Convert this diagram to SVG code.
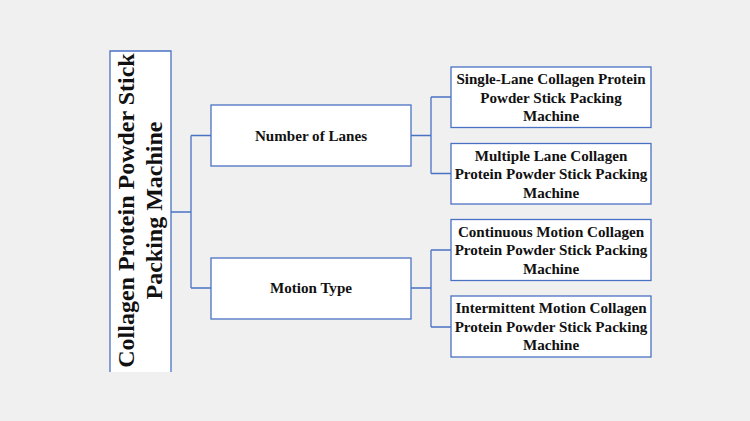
<svg xmlns="http://www.w3.org/2000/svg" width="750" height="421" viewBox="0 0 750 421">
<style>
.bx{fill:#ffffff;stroke:#4a72c4;stroke-width:1.3}
.cn{fill:none;stroke:#4a72c4;stroke-width:1.3}
.t{font-family:"Liberation Serif","Times New Roman",serif;font-weight:bold;font-size:15.1px;fill:#111;text-anchor:middle}
.r{font-family:"Liberation Serif","Times New Roman",serif;font-weight:bold;font-size:24px;fill:#111;text-anchor:middle}
</style>
<rect width="750" height="421" fill="#f0f0f0"/>
<g id="connectors">
<path class="cn" d="M171,212 H191 M191,135.5 V288 M191,135.5 H211 M191,288 H211"/>
<path class="cn" d="M411,135.5 H431 M431,97 V173.5 M431,97 H451 M431,173.5 H451"/>
<path class="cn" d="M411,288 H431 M431,250 V327 M431,250 H451 M431,327 H451"/>
</g>
<g id="root">
<path class="bx" d="M110,372 V51 H171 V372"/>
<text class="r" transform="translate(140.5,210.5) rotate(-90)"><tspan x="0" y="-7">Collagen Protein Powder Stick</tspan><tspan x="0" y="21">Packing Machine</tspan></text>
</g>
<g id="lanes">
<rect class="bx" x="211" y="105" width="200" height="61"/>
<text class="t" x="311" y="140.5">Number of Lanes</text>
</g>
<g id="motion">
<rect class="bx" x="211" y="258" width="200" height="61"/>
<text class="t" x="311" y="293">Motion Type</text>
</g>
<g id="single">
<rect class="bx" x="451" y="67" width="200" height="60.5"/>
<text class="t"><tspan x="551" y="84">Single-Lane Collagen Protein</tspan><tspan x="551" y="102.5">Powder Stick Packing</tspan><tspan x="551" y="121">Machine</tspan></text>
</g>
<g id="multiple">
<rect class="bx" x="451" y="143.5" width="200" height="60.5"/>
<text class="t"><tspan x="551" y="160.5">Multiple Lane Collagen</tspan><tspan x="551" y="179">Protein Powder Stick Packing</tspan><tspan x="551" y="197.5">Machine</tspan></text>
</g>
<g id="continuous">
<rect class="bx" x="451" y="219.5" width="200" height="61"/>
<text class="t"><tspan x="551" y="236.5">Continuous Motion Collagen</tspan><tspan x="551" y="255">Protein Powder Stick Packing</tspan><tspan x="551" y="273.5">Machine</tspan></text>
</g>
<g id="intermittent">
<rect class="bx" x="451" y="296" width="200" height="61"/>
<text class="t"><tspan x="551" y="313">Intermittent Motion Collagen</tspan><tspan x="551" y="331.5">Protein Powder Stick Packing</tspan><tspan x="551" y="350">Machine</tspan></text>
</g>
</svg>
